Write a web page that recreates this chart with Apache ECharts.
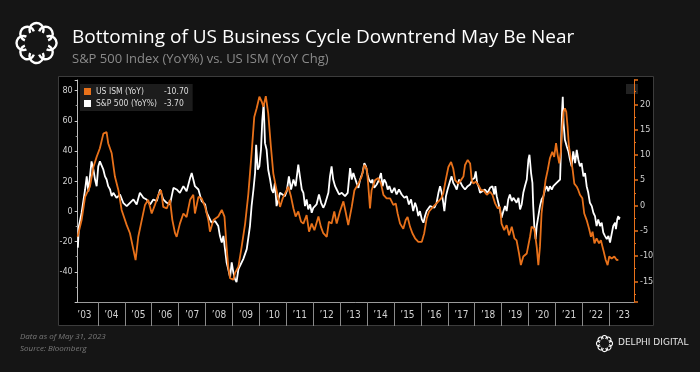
<!DOCTYPE html>
<html>
<head>
<meta charset="utf-8">
<script src="https://cdn.jsdelivr.net/npm/echarts@6/dist/echarts.min.js"></script>
<style>html,body{margin:0;padding:0;background:#151515;}#c{width:700px;height:372px;}</style>
</head>
<body>
<div id="c"></div>
<script>
// ---- data (decimal years) ----
var ismYears = [2003.24,2003.39,2003.52,2003.70,2003.83,2003.95,2004.07,2004.20,2004.32,2004.38,2004.51,2004.63,2004.76,2004.88,2005.07,2005.19,2005.32,2005.40,2005.50,2005.63,2005.75,2005.87,2006.00,2006.12,2006.25,2006.35,2006.43,2006.56,2006.68,2006.77,2006.87,2006.93,2007.05,2007.18,2007.30,2007.43,2007.55,2007.61,2007.74,2007.86,2007.99,2008.11,2008.17,2008.30,2008.36,2008.48,2008.61,2008.71,2008.79,2008.85,2008.92,2009.04,2009.10,2009.23,2009.35,2009.48,2009.60,2009.72,2009.82,2009.91,2010.01,2010.10,2010.16,2010.25,2010.34,2010.44,2010.53,2010.65,2010.78,2010.88,2010.96,2011.09,2011.19,2011.28,2011.36,2011.46,2011.56,2011.65,2011.77,2011.86,2011.96,2012.06,2012.21,2012.30,2012.39,2012.52,2012.60,2012.70,2012.80,2012.89,2013.01,2013.14,2013.22,2013.32,2013.45,2013.55,2013.70,2013.82,2013.92,2014.01,2014.07,2014.13,2014.19,2014.32,2014.44,2014.54,2014.63,2014.75,2014.88,2015.00,2015.09,2015.16,2015.25,2015.37,2015.46,2015.53,2015.62,2015.71,2015.81,2015.93,2016.06,2016.15,2016.24,2016.33,2016.43,2016.55,2016.68,2016.78,2016.86,2016.95,2017.05,2017.15,2017.23,2017.30,2017.42,2017.52,2017.61,2017.67,2017.77,2017.86,2017.92,2017.98,2018.07,2018.17,2018.27,2018.35,2018.48,2018.60,2018.69,2018.79,2018.89,2018.97,2019.03,2019.13,2019.22,2019.31,2019.41,2019.51,2019.59,2019.68,2019.75,2019.84,2019.97,2020.09,2020.15,2020.25,2020.34,2020.40,2020.46,2020.52,2020.59,2020.67,2020.75,2020.83,2020.92,2020.99,2021.06,2021.12,2021.18,2021.24,2021.29,2021.34,2021.39,2021.44,2021.49,2021.54,2021.62,2021.68,2021.74,2021.83,2021.89,2021.95,2022.04,2022.11,2022.20,2022.29,2022.36,2022.42,2022.49,2022.57,2022.66,2022.73,2022.82,2022.91,2022.98,2023.04,2023.13,2023.23,2023.32,2023.38];
var ismValues = [-6.2,-2.9,1.7,3.7,7.6,9.6,11.3,14.2,14.5,12.3,10.3,5.7,3.0,-0.9,-3.9,-5.5,-8.8,-10.8,-6.2,-2.9,0.1,1.1,-1.6,0.1,2.1,3.0,-0.3,-0.6,1.1,-2.9,-5.5,-6.2,-3.6,-1.6,-2.3,1.1,2.1,-1.6,1.7,1.4,-0.3,-2.9,-5.2,-2.9,-3.2,-2.2,-0.9,-2.2,-8.2,-12.1,-14.4,-14.7,-13.4,-12.1,-8.2,-3.6,2.3,10.3,17.5,19.2,21.5,20.5,19.5,21.6,18.2,11.6,6.3,3.0,-0.3,1.4,2.3,3.7,1.7,-0.6,-2.2,-1.2,-3.2,-3.6,-1.9,-5.2,-3.6,-4.9,-2.2,-4.2,-5.5,-6.2,-3.2,-3.6,-1.2,-3.6,-1.2,0.8,-1.2,-3.9,-0.3,3.0,4.3,5.7,8.0,7.3,3.7,-0.6,3.0,5.0,5.4,4.3,2.1,1.4,1.4,0.1,0.4,-1.6,-3.6,-4.6,-2.9,-2.3,-4.2,-5.5,-6.5,-7.2,-7.2,-5.5,-2.6,-1.2,-0.6,0.1,0.8,1.4,2.4,5.0,7.6,8.6,7.3,5.0,4.3,5.0,5.7,8.0,9.0,8.3,5.0,4.3,4.7,4.0,3.0,3.0,2.1,2.7,2.1,0.4,-0.6,-0.3,-3.6,-4.9,-3.9,-5.9,-4.2,-6.5,-6.9,-9.5,-11.8,-10.1,-9.5,-6.2,-4.2,-4.6,-8.2,-11.8,-8.2,-1.6,1.7,5.0,7.0,9.3,10.6,9.6,12.3,10.0,8.3,10.6,15.5,18.5,19.2,18.5,15.5,11.6,9.0,7.0,4.3,3.7,3.0,2.1,1.4,-1.6,-2.9,-4.6,-6.2,-5.2,-7.5,-6.5,-7.5,-6.9,-8.8,-10.8,-11.8,-10.1,-10.5,-10.1,-10.8,-10.7];

var spxYears = [2003.25,2003.29,2003.39,2003.52,2003.58,2003.64,2003.76,2003.83,2003.89,2003.95,2004.01,2004.07,2004.14,2004.20,2004.26,2004.32,2004.38,2004.45,2004.51,2004.57,2004.69,2004.82,2004.94,2005.07,2005.19,2005.32,2005.44,2005.56,2005.69,2005.81,2005.94,2006.06,2006.19,2006.31,2006.43,2006.56,2006.68,2006.81,2006.93,2007.05,2007.18,2007.30,2007.43,2007.49,2007.55,2007.61,2007.74,2007.80,2007.86,2007.99,2008.05,2008.17,2008.23,2008.36,2008.48,2008.54,2008.61,2008.67,2008.73,2008.79,2008.85,2008.92,2008.98,2009.04,2009.10,2009.16,2009.23,2009.29,2009.41,2009.54,2009.60,2009.66,2009.72,2009.79,2009.85,2009.89,2009.95,2010.01,2010.07,2010.12,2010.17,2010.22,2010.28,2010.34,2010.41,2010.47,2010.53,2010.59,2010.65,2010.72,2010.78,2010.84,2010.96,2011.03,2011.11,2011.19,2011.28,2011.36,2011.46,2011.52,2011.59,2011.65,2011.71,2011.77,2011.83,2011.90,2011.96,2012.02,2012.08,2012.14,2012.23,2012.31,2012.39,2012.45,2012.58,2012.64,2012.70,2012.76,2012.83,2012.89,2012.98,2013.08,2013.20,2013.30,2013.39,2013.45,2013.51,2013.57,2013.63,2013.70,2013.76,2013.85,2013.92,2013.98,2014.04,2014.09,2014.17,2014.22,2014.29,2014.38,2014.47,2014.54,2014.60,2014.66,2014.73,2014.79,2014.85,2014.94,2015.04,2015.12,2015.21,2015.31,2015.41,2015.50,2015.58,2015.66,2015.74,2015.81,2015.87,2015.93,2015.99,2016.06,2016.12,2016.18,2016.24,2016.30,2016.37,2016.43,2016.53,2016.61,2016.68,2016.74,2016.80,2016.86,2016.90,2016.96,2017.02,2017.11,2017.17,2017.23,2017.30,2017.36,2017.45,2017.52,2017.57,2017.67,2017.77,2017.86,2017.94,2018.02,2018.07,2018.12,2018.17,2018.23,2018.29,2018.41,2018.51,2018.60,2018.69,2018.76,2018.80,2018.85,2018.91,2018.97,2019.03,2019.10,2019.16,2019.22,2019.28,2019.34,2019.41,2019.47,2019.53,2019.59,2019.66,2019.72,2019.78,2019.84,2019.90,2019.97,2020.03,2020.07,2020.13,2020.18,2020.21,2020.25,2020.30,2020.34,2020.40,2020.46,2020.52,2020.59,2020.65,2020.71,2020.77,2020.83,2020.90,2020.96,2021.02,2021.08,2021.14,2021.21,2021.24,2021.28,2021.31,2021.34,2021.39,2021.46,2021.52,2021.58,2021.64,2021.70,2021.77,2021.83,2021.89,2021.95,2022.01,2022.08,2022.14,2022.20,2022.26,2022.32,2022.39,2022.45,2022.51,2022.57,2022.63,2022.70,2022.76,2022.82,2022.88,2022.95,2023.01,2023.07,2023.13,2023.19,2023.26,2023.29,2023.34,2023.38,2023.40,2023.43];
var spxValues = [-24,-9.7,-0.9,14.5,23.2,13.2,33.1,27.6,21.1,16.7,29.8,33.1,34.2,27.6,23.2,21.1,16.7,14.5,10.1,12.3,9.0,11.2,5.7,3.5,5.7,7.9,4.6,12.3,9.0,7.9,4.6,7.9,6.8,14.5,7.9,5.7,4.6,15.6,14.5,12.3,16.7,13.4,22.1,25.4,21.1,16.7,14.5,13.4,6.8,4.6,-0.9,-5.3,-7.5,-6.4,-9.7,-16.2,-20.6,-16.2,-25.0,-33.8,-38.2,-43.6,-33.8,-40.4,-44.7,-46.9,-38.2,-36.0,-31.6,-25.0,-17.3,-9.7,3.5,14.5,25.4,44.1,27.6,29.8,40.8,60.5,71.5,45.2,40.8,27.6,21.1,14.5,12.3,18.9,3.5,7.9,12.3,11.2,10.1,13.4,23.2,14.5,21.1,16.7,30.9,23.2,14.5,12.3,3.5,7.9,1.3,4.6,-0.9,2.4,1.3,4.6,11.2,5.7,2.4,4.6,12.3,23.2,29.8,21.1,16.7,14.5,11.2,12.3,10.1,12.3,28.7,21.1,25.4,22.1,18.9,15.6,21.1,25.4,32.0,29.8,24.3,21.1,18.9,21.1,15.6,17.8,21.1,25.4,16.7,21.1,18.9,14.5,16.7,12.3,15.6,11.2,14.5,11.2,9.0,10.1,4.6,7.9,0.2,5.7,2.4,-3.1,0.2,-5.3,-7.5,-3.1,0.2,-0.9,3.5,4.6,2.4,5.7,12.3,16.7,12.3,5.7,0.2,10.1,14.5,20.0,23.2,18.9,16.7,14.5,21.1,22.1,16.7,14.5,16.7,17.8,21.1,22.1,26.5,18.9,16.7,12.3,11.2,14.5,12.3,15.6,16.7,11.2,16.7,10.1,9.0,1.3,-4.2,0.2,3.5,0.2,7.9,11.2,6.8,9.0,10.1,5.7,9.0,1.3,4.6,12.3,16.7,21.1,34.2,37.5,25.4,18.9,3.5,-9.7,-18.4,-9.7,-3.1,3.5,7.9,10.1,14.5,16.7,13.4,16.7,14.5,16.7,15.6,18.9,17.8,21.1,38.6,64.9,75.9,58.3,47.4,43.0,39.7,34.2,29.8,39.7,32.0,40.8,34.2,29.8,32.0,23.2,25.4,16.7,12.3,5.7,3.5,-0.9,-3.1,-9.7,-5.3,-9.7,-7.5,-14.0,-16.2,-18.4,-16.2,-20.6,-15.1,-9.7,-7.5,-11.8,-5.3,-3.1,-5.3,-3.7];

var seriesNames = ['US ISM (YoY)', 'S&P 500 (YoY%)'];
var lastValues = ['-10.70', '-3.70'];
var titleText = 'Bottoming of US Business Cycle Downtrend May Be Near';
var subtitleText = 'S&P 500 Index (YoY%) vs. US ISM (YoY Chg)';

// monthly categories for the date axis (Apr 2003 .. Dec 2023)
var months = [];
for (var y = 2003; y <= 2023; y++) {
  for (var m = 1; m <= 12; m++) {
    if (y === 2003 && m < 4) continue;
    months.push(y + '-' + (m < 10 ? '0' + m : m));
  }
}

function pairs(xs, vs) { return xs.map(function (x, i) { return [x, vs[i]]; }); }

function knot(cx, cy, s, lw) {
  var els = [];
  for (var k = 0; k < 8; k++) {
    var a = k * Math.PI / 4;
    els.push({ type: 'arc', shape: { cx: cx + Math.cos(a) * 13 * s, cy: cy + Math.sin(a) * 13 * s, r: 7 * s,
        startAngle: a - 2.0, endAngle: a + 2.0 },
      style: { fill: 'none', stroke: '#fff', lineWidth: lw }, silent: true });
  }
  return els;
}

var ORANGE = '#e8711a';
var chart = echarts.init(document.getElementById('c'), null, { renderer: 'canvas' });
var legendMap = {};
seriesNames.forEach(function (n, i) { legendMap[n] = lastValues[i]; });

var graphics = [
  { type: 'rect', z: -10, shape: { x: 58.5, y: 76.5, width: 595, height: 249 }, style: { fill: '#000', stroke: '#3c3c3c', lineWidth: 1 }, silent: true },
  { type: 'rect', shape: { x: 626, y: 84, width: 12, height: 10 }, style: { fill: '#222' }, silent: true },
  { type: 'text', x: 20, y: 333, style: { text: 'Data as of May 31, 2023', fill: '#7a7a7a', font: 'italic 8px "Open Sans"' }, silent: true },
  { type: 'text', x: 20, y: 345, style: { text: 'Source: Bloomberg', fill: '#7a7a7a', font: 'italic 8px "Open Sans"' }, silent: true },
  { type: 'text', x: 618, y: 338, style: { text: 'DELPHI DIGITAL', fill: '#e6e6e6', font: '9px "DejaVu Sans"', letterSpacing: 1 }, silent: true }
].concat(knot(36.5, 43, 1, 2.4)).concat(knot(604.5, 343.5, 0.4, 1.1));

var option = {
  backgroundColor: '#151515',
  animation: false,
  title: {
    text: titleText, subtext: subtitleText, left: 67, top: 23, itemGap: 6,
    textStyle: { color: '#ffffff', fontSize: 19, fontWeight: 'normal', fontFamily: 'Open Sans' },
    subtextStyle: { color: '#8a8a8a', fontSize: 13, fontFamily: 'Open Sans' }
  },
  legend: {
    data: seriesNames, orient: 'vertical', left: 80, top: 84, itemWidth: 7, itemHeight: 7, itemGap: 3,
    icon: 'rect', backgroundColor: '#1c1c1c', padding: [3, 4, 3, 4],
    formatter: function (n) { return '{n|' + n + '}{v|' + legendMap[n] + '}'; },
    textStyle: { color: '#dddddd', fontSize: 8.5, fontFamily: 'DejaVu Sans Condensed',
      rich: { n: { width: 68, color: '#dddddd', fontSize: 8.5, fontFamily: 'DejaVu Sans Condensed' },
              v: { color: '#dddddd', fontSize: 8.5, fontFamily: 'DejaVu Sans Condensed' } } }
  },
  grid: { left: 77.7, right: 66, top: 80, bottom: 70, containLabel: false },
  xAxis: [
    { type: 'category', data: months, boundaryGap: false, position: 'bottom',
      axisLine: { onZero: false, lineStyle: { color: '#9a9a9a', width: 1 } },
      axisTick: { interval: function (i, v) { return v.slice(5) === '01'; }, length: 24, lineStyle: { color: '#8a8a8a' } },
      axisLabel: { interval: function (i, v) { return v.slice(5) === '07'; }, formatter: function (v) { return '\u2019' + v.slice(2, 4); },
        color: '#d0d0d0', fontSize: 10, margin: 8, fontFamily: 'DejaVu Sans Condensed' },
      splitLine: { show: false } },
    { type: 'value', min: 2003.244, max: 2023.963, show: false, splitLine: { show: false } }
  ],
  yAxis: [
    { type: 'value', position: 'left', min: -60, max: 87, minInterval: 20, maxInterval: 20,
      axisLine: { show: true, onZero: false, lineStyle: { color: '#bbbbbb' } },
      axisTick: { show: true, length: 3, lineStyle: { color: '#cccccc' } },
      minorTick: { show: true, splitNumber: 2, length: 2, lineStyle: { color: '#999' } },
      axisLabel: { color: '#d0d0d0', fontSize: 9, margin: 5, showMinLabel: false, showMaxLabel: false, fontFamily: 'DejaVu Sans Condensed' },
      splitLine: { show: false } },
    { type: 'value', position: 'right', min: -19.1, max: 24.8, minInterval: 5, maxInterval: 5,
      axisLine: { show: true, onZero: false, lineStyle: { color: ORANGE, width: 1 } },
      axisTick: { show: true, length: 4, lineStyle: { color: ORANGE, width: 1.5 } },
      minorTick: { show: true, splitNumber: 2, length: 2, lineStyle: { color: ORANGE } },
      axisLabel: { color: '#d0d0d0', fontSize: 9, margin: 6, showMinLabel: false, showMaxLabel: false, fontFamily: 'DejaVu Sans Condensed' },
      splitLine: { show: false } }
  ],
  series: [
    { name: seriesNames[1], type: 'line', xAxisIndex: 1, yAxisIndex: 0, data: pairs(spxYears, spxValues),
      showSymbol: false, lineStyle: { color: '#ffffff', width: 1.8 }, itemStyle: { color: '#ffffff' }, z: 3 },
    { name: seriesNames[0], type: 'line', xAxisIndex: 1, yAxisIndex: 1, data: pairs(ismYears, ismValues),
      showSymbol: false, lineStyle: { color: ORANGE, width: 1.8 }, itemStyle: { color: ORANGE }, z: 4 }
  ],
  graphic: graphics
};
chart.setOption(option);
</script>
</body>
</html>
